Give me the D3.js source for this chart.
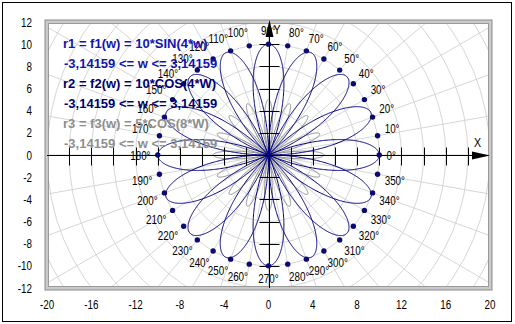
<!DOCTYPE html>
<html>
<head>
<meta charset="utf-8">
<script src="https://cdn.jsdelivr.net/npm/d3@7"></script>
<style>
  html, body { margin: 0; padding: 0; background: #fff; }
  svg { display: block; }
  .num { font-family: "Liberation Sans", Arial, sans-serif; font-size: 12px; fill: #000; }
  .leg { font-family: "Liberation Sans", Arial, sans-serif; font-size: 13px; font-weight: bold; }
</style>
</head>
<body>
<svg id="chart" width="515" height="324"></svg>
<script>
// Axis ranges and tick values
const xDomain = [-20, 20];
const yDomain = [-12, 12];
const xTickLabels = [-20, -16, -12, -8, -4, 0, 4, 8, 12, 16, 20];
const yTickLabels = [-12, -10, -8, -6, -4, -2, 0, 2, 4, 6, 8, 10, 12];
const xAxisTicks = d3.range(-18, 19, 2);
const yAxisTicks = d3.range(-10, 11, 2);

// Polar grid: rings every 2 units, spokes every 10 degrees
const gridRadii = d3.range(2, 26, 2);
const gridAngles = d3.range(0, 360, 10);

// Marker ring at r = 10 with angle labels every 10 degrees
const markerRadius = 10;
const markerAngles = d3.range(0, 360, 10);

// Polar functions r = amp * trig(freq * w), w in [-pi, pi]
const curveNames = ["r1", "r2", "r3"];
const curveAmps = [10, 10, 5];
const curveFreqs = [4, 4, 8];
const curveTrig = ["sin", "cos", "cos"];
const curveColors = ["#000080", "#000080", "#8c8c8c"];
const wRange = [-3.14159, 3.14159];

// Legend lines
const legendText = [
  "r1 = f1(w) = 10*SIN(4*w)",
  "-3,14159 <= w <= 3,14159",
  "r2 = f2(w) = 10*COS(4*W)",
  "-3,14159 <= w <= 3,14159",
  "r3 = f3(w) = 5*COS(8*W)",
  "-3,14159 <= w <= 3,14159"
];
const legendColors = ["#1414b0", "#1414b0", "#000070", "#000070", "#8e8e8e", "#8e8e8e"];

const svg = d3.select("#chart");
const x = d3.scaleLinear().domain(xDomain).range([47, 490]);
const y = d3.scaleLinear().domain(yDomain).range([288, 22]);
const unit = x(1) - x(0);
const narrow = 0.82; // horizontal condensing of numeric labels

// places a condensed text at (px, py)
function placeNum(sel, px, py) {
  sel.attr("x", 0).attr("y", 0).attr("transform", `translate(${px},${py}) scale(${narrow},1)`);
}

svg.append("rect").attr("width", 515).attr("height", 324).attr("fill", "#fff");
// outer frame
svg.append("rect").attr("x", 2.5).attr("y", 2.5).attr("width", 509).attr("height", 319)
  .attr("fill", "none").attr("stroke", "#000").attr("stroke-width", 1);

const defs = svg.append("defs");
defs.append("clipPath").attr("id", "plotClip").append("rect")
  .attr("x", x(xDomain[0])).attr("y", y(yDomain[1]))
  .attr("width", x(xDomain[1]) - x(xDomain[0])).attr("height", y(yDomain[0]) - y(yDomain[1]));

const plot = svg.append("g").attr("clip-path", "url(#plotClip)");

// polar grid
const grid = plot.append("g").attr("fill", "none").attr("stroke", "#d6d6d6").attr("stroke-width", 1);
grid.selectAll("circle").data(gridRadii).join("circle")
  .attr("cx", x(0)).attr("cy", y(0)).attr("r", d => d * unit);
grid.selectAll("line").data(gridAngles).join("line")
  .attr("x1", x(0)).attr("y1", y(0))
  .attr("x2", d => x(30 * Math.cos(d * Math.PI / 180)))
  .attr("y2", d => y(30 * Math.sin(d * Math.PI / 180)));

// curves
const trigFns = { sin: Math.sin, cos: Math.cos };
const samples = d3.range(0, 2001).map(i => wRange[0] + (wRange[1] - wRange[0]) * i / 2000);
const line = d3.line().x(d => x(d[0])).y(d => y(d[1]));
const curveOrder = [2, 0, 1];
curveOrder.forEach(i => {
  const f = trigFns[curveTrig[i]];
  const pts = samples.map(w => {
    const r = curveAmps[i] * f(curveFreqs[i] * w);
    return [r * Math.cos(w), r * Math.sin(w)];
  });
  plot.append("path").attr("d", line(pts)).attr("fill", "none")
    .attr("stroke", curveColors[i]).attr("stroke-width", 1);
});

// plot frame
const fx = x(xDomain[0]), fy = y(yDomain[1]);
const fw = x(xDomain[1]) - fx, fh = y(yDomain[0]) - fy;
svg.append("rect").attr("x", fx).attr("y", fy).attr("width", fw).attr("height", fh)
  .attr("fill", "none").attr("stroke", "#cacaca").attr("stroke-width", 4);
svg.append("rect").attr("x", fx - 2).attr("y", fy - 2).attr("width", fw + 4).attr("height", fh + 4)
  .attr("fill", "none").attr("stroke", "#8a8a8a").attr("stroke-width", 1);
svg.append("rect").attr("x", fx + 1.5).attr("y", fy + 1.5).attr("width", fw - 3).attr("height", fh - 3)
  .attr("fill", "none").attr("stroke", "#9a9a9a").attr("stroke-width", 1);

// axes
const axes = svg.append("g").attr("stroke", "#000").attr("stroke-width", 1);
const y0 = Math.round(y(0)) + 0.5, x0 = Math.round(x(0)) + 0.5;
axes.append("line").attr("x1", x(xDomain[0])).attr("x2", x(xDomain[1]) - 2).attr("y1", y0).attr("y2", y0);
axes.append("line").attr("x1", x0).attr("x2", x0).attr("y1", y(yDomain[0])).attr("y2", y(yDomain[1]) + 2);
axes.selectAll(".xt").data(xAxisTicks).join("line").attr("class", "xt")
  .attr("x1", d => Math.round(x(d)) + 0.5).attr("x2", d => Math.round(x(d)) + 0.5)
  .attr("y1", y0 - 8).attr("y2", y0 + 10);
axes.selectAll(".yt").data(yAxisTicks).join("line").attr("class", "yt")
  .attr("y1", d => Math.round(y(d)) + 0.5).attr("y2", d => Math.round(y(d)) + 0.5)
  .attr("x1", x0 - 10).attr("x2", x0 + 10);

// marker dots
svg.append("g").selectAll("circle").data(markerAngles).join("circle")
  .attr("cx", d => x(markerRadius * Math.cos(d * Math.PI / 180)))
  .attr("cy", d => y(markerRadius * Math.sin(d * Math.PI / 180)))
  .attr("r", 2.7).attr("fill", "#0a0a70");

// angle labels
const labelR = 10.65;
svg.append("g").selectAll("text").data(markerAngles).join("text")
  .attr("class", "num")
  .each(function(d) {
    const a = d * Math.PI / 180, c = Math.cos(a), s = Math.sin(a);
    const px = x(labelR * c), py = y(labelR * s);
    const anchor = c > 0.01 ? "start" : (c < -0.01 ? "end" : "middle");
    const by = s > 0.01 ? py - 1.5 : (s < -0.01 ? py + 9.5 : py + 4.5);
    d3.select(this).attr("text-anchor", anchor).text(d + "°").call(placeNum, px, by);
  });

// tick labels
svg.append("g").selectAll("text").data(xTickLabels).join("text")
  .attr("class", "num").attr("text-anchor", "middle")
  .text(d => d)
  .each(function(d) { d3.select(this).call(placeNum, x(d), 309); });
svg.append("g").selectAll("text").data(yTickLabels).join("text")
  .attr("class", "num").attr("text-anchor", "end")
  .text(d => d)
  .each(function(d) { d3.select(this).call(placeNum, 32, y(d) + 4.5); });

// arrows and axis names
svg.append("path").attr("fill", "#000")
  .attr("d", `M${x0},${y(yDomain[1]) - 2} L${x0 - 4},${y(yDomain[1]) + 15} L${x0 + 4},${y(yDomain[1]) + 15} Z`);
svg.append("path").attr("fill", "#000")
  .attr("d", `M${x(xDomain[1])},${y0} L${x(xDomain[1]) - 18},${y0 - 4} L${x(xDomain[1]) - 18},${y0 + 4} Z`);
svg.append("text").attr("class", "num").style("font-size", "13px").text("Y")
  .call(placeNum, x0 + 4, y(yDomain[1]) + 12);
svg.append("text").attr("class", "num").style("font-size", "13px").text("X")
  .call(placeNum, x(xDomain[1]) - 16, y0 - 9);

// legend
svg.append("g").selectAll("text").data(legendText).join("text")
  .attr("class", "leg")
  .attr("x", (d, i) => i % 2 === 0 ? 63 : 64)
  .attr("y", (d, i) => 47.5 + i * 20)
  .attr("fill", (d, i) => legendColors[i])
  .text(d => d);
</script>
</body>
</html>
